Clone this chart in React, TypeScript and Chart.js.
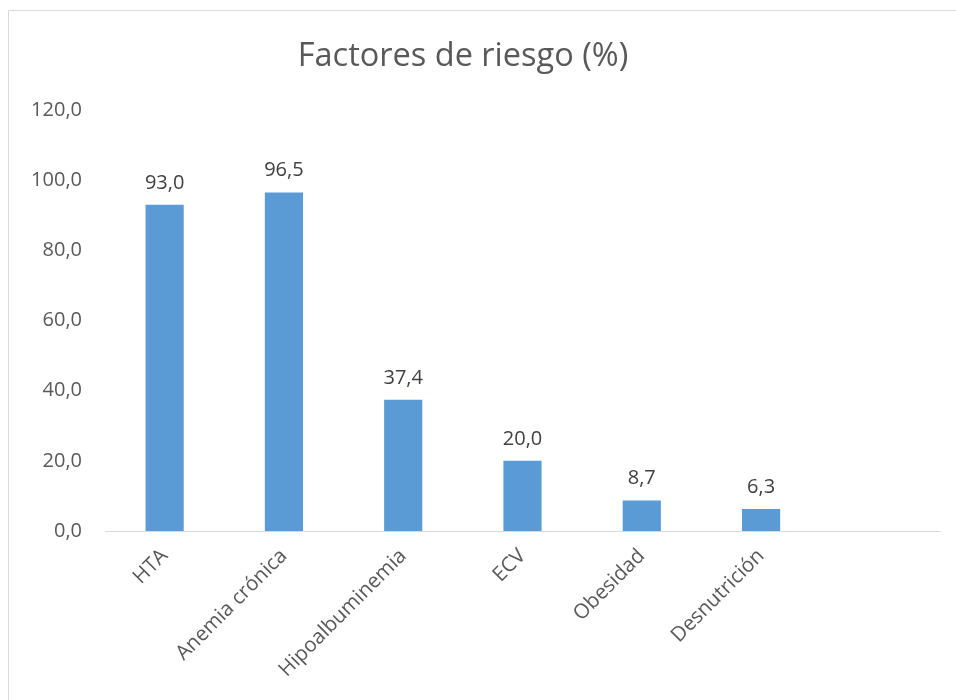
import React, { useEffect, useRef } from "react";
import { Chart, registerables } from "chart.js";

Chart.register(...registerables);

const categories = ["HTA", "Anemia crónica", "Hipoalbuminemia", "ECV", "Obesidad", "Desnutrición", ""];
const values: (number | null)[] = [93.0, 96.5, 37.4, 20.0, 8.7, 6.3, null];
const yTicks = [0, 20, 40, 60, 80, 100, 120];
const titleText = "Factores de riesgo (%)";

const FONT = "'Open Sans', 'Noto Sans', sans-serif";

const fmt = (v: number) => v.toFixed(1).replace(".", ",");

const borderPlugin = {
  id: "outerBorder",
  beforeDraw(chart: any) {
    const ctx = chart.ctx;
    ctx.save();
    ctx.fillStyle = "#ffffff";
    ctx.fillRect(0, 0, chart.width, chart.height);
    ctx.strokeStyle = "#d9d9d9";
    ctx.lineWidth = 1;
    ctx.beginPath();
    ctx.moveTo(8.5, chart.height);
    ctx.lineTo(8.5, 10.5);
    ctx.lineTo(chart.width, 10.5);
    ctx.stroke();
    // title, centred on the chart frame like the original
    ctx.font = `32.5px ${FONT}`;
    ctx.fillStyle = "#595959";
    ctx.textAlign = "center";
    ctx.textBaseline = "alphabetic";
    ctx.fillText(titleText, 463, 66);
    ctx.restore();
  },
};

const dataLabelPlugin = {
  id: "dataLabels",
  afterDatasetsDraw(chart: any) {
    const ctx = chart.ctx;
    const meta = chart.getDatasetMeta(0);
    ctx.save();
    ctx.font = `20px ${FONT}`;
    ctx.fillStyle = "#404040";
    ctx.textAlign = "center";
    ctx.textBaseline = "alphabetic";
    meta.data.forEach((bar: any, i: number) => {
      const v = values[i];
      if (v === null || v === undefined) return;
      ctx.fillText(fmt(v), bar.x, bar.y - 16);
    });
    ctx.restore();
  },
};

export default function App() {
  const ref = useRef<HTMLCanvasElement | null>(null);

  useEffect(() => {
    if (!ref.current) return;
    const chart = new Chart(ref.current, {
      type: "bar",
      data: {
        labels: categories,
        datasets: [
          {
            data: values,
            backgroundColor: "#5b9bd5",
            borderWidth: 0,
            categoryPercentage: 1,
            barPercentage: 0.32,
          },
        ],
      },
      options: {
        animation: false,
        responsive: false,
        maintainAspectRatio: false,
        layout: { padding: { left: 0, right: 16, top: 110, bottom: 0 } },
        plugins: {
          legend: { display: false },
          tooltip: { enabled: false },
          title: { display: false },
        },
        scales: {
          x: {
            grid: { display: false, drawTicks: false },
            border: { display: true, color: "#d9d9d9", width: 1 },
            ticks: {
              color: "#595959",
              font: { family: FONT, size: 20.5 },
              maxRotation: 45,
              minRotation: 45,
              padding: 13,
              autoSkip: false,
            },
            afterFit(scale: any) {
              scale.height = 169;
            },
          },
          y: {
            min: 0,
            max: 120,
            grid: { display: false, drawTicks: false },
            border: { display: false },
            afterBuildTicks(scale: any) {
              scale.ticks = yTicks.map((v) => ({ value: v }));
            },
            ticks: {
              color: "#595959",
              font: { family: FONT, size: 20 },
              padding: 23,
              callback: (v: any) => fmt(Number(v)),
            },
            afterFit(scale: any) {
              scale.width = 105;
            },
          },
        },
      },
      plugins: [borderPlugin, dataLabelPlugin],
    });
    return () => chart.destroy();
  }, []);

  return (
    <div style={{ position: "fixed", left: 0, top: 0, width: 956, height: 700, background: "#fff" }}>
      <canvas ref={ref} width={956} height={700} style={{ display: "block", width: 956, height: 700 }} />
    </div>
  );
}
